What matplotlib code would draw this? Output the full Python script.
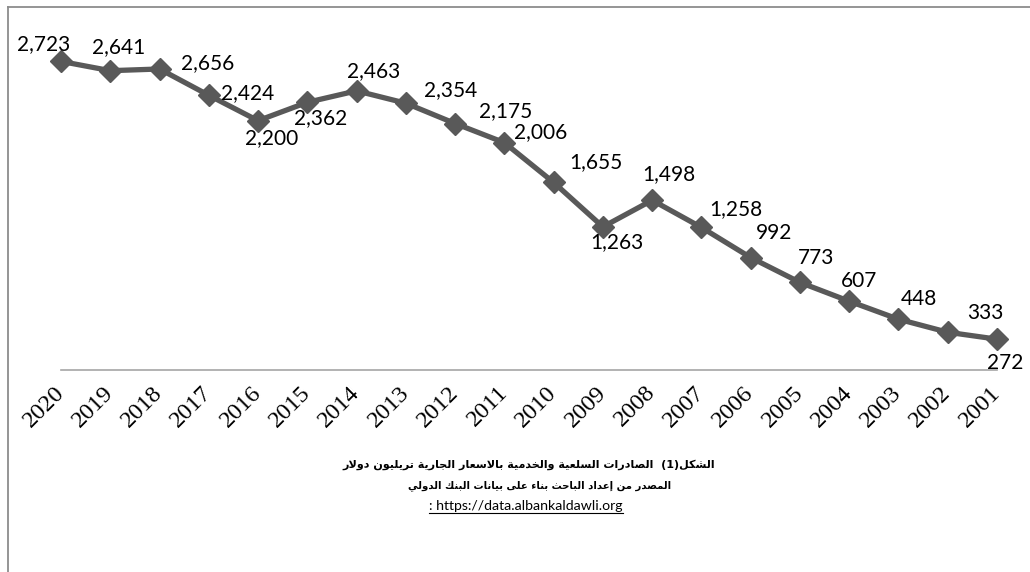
import matplotlib
matplotlib.use("Agg")
import matplotlib.pyplot as plt
from matplotlib.lines import Line2D

# ---------------- data ----------------
years = ["2020", "2019", "2018", "2017", "2016", "2015", "2014", "2013", "2012", "2011",
         "2010", "2009", "2008", "2007", "2006", "2005", "2004", "2003", "2002", "2001"]
values = [2723, 2641, 2656, 2424, 2200, 2362, 2463, 2354, 2175, 2006,
          1655, 1263, 1498, 1258, 992, 773, 607, 448, 333, 272]
caption_line1 = "الشكل(1)  الصادرات السلعية والخدمية بالاسعار الجارية تريليون دولار"
caption_line2 = "المصدر من إعداد الباحث بناء على بيانات البنك الدولي"
caption_line3 = ": https://data.albankaldawli.org"

# label offsets in pixels (dx, dy with dy positive = up)
label_offsets = [(-17, 17), (8, 24), (48, 6), (39, 2), (14, -17), (13, -16), (17, 20),
                 (45, 13), (51, 12), (36, 11), (42, 20), (14, -15), (17, 26), (34, 18),
                 (23, 25), (16, 24), (10, 20), (20, 20), (38, 19), (8, -24)]

# ---------------- simple Arabic shaping ----------------
TWO = {0x0622: 0xFE81, 0x0623: 0xFE83, 0x0624: 0xFE85, 0x0625: 0xFE87, 0x0627: 0xFE8D,
       0x0629: 0xFE93, 0x062F: 0xFEA9, 0x0630: 0xFEAB, 0x0631: 0xFEAD, 0x0632: 0xFEAF,
       0x0648: 0xFEED, 0x0649: 0xFEEF}
FOUR = {0x0626: 0xFE89, 0x0628: 0xFE8F, 0x062A: 0xFE95, 0x062B: 0xFE99, 0x062C: 0xFE9D,
        0x062D: 0xFEA1, 0x062E: 0xFEA5, 0x0633: 0xFEB1, 0x0634: 0xFEB5, 0x0635: 0xFEB9,
        0x0636: 0xFEBD, 0x0637: 0xFEC1, 0x0638: 0xFEC5, 0x0639: 0xFEC9, 0x063A: 0xFECD,
        0x0641: 0xFED1, 0x0642: 0xFED5, 0x0643: 0xFED9, 0x0644: 0xFEDD, 0x0645: 0xFEE1,
        0x0646: 0xFEE5, 0x0647: 0xFEE9, 0x064A: 0xFEF1}
ONE = {0x0621: 0xFE80}
LAM_ALEF = {0x0627: 0xFEFB, 0x0623: 0xFEF7, 0x0625: 0xFEF9, 0x0622: 0xFEF5}


def shape_arabic(s):
    toks = []
    i = 0
    while i < len(s):
        c = ord(s[i])
        if c == 0x0644 and i + 1 < len(s) and ord(s[i + 1]) in LAM_ALEF:
            toks.append(("LA", ord(s[i + 1])))
            i += 2
        else:
            toks.append(("C", c))
            i += 1

    def jt(t):
        if t[0] == "LA":
            return "R"
        if t[1] in FOUR:
            return "D"
        if t[1] in TWO:
            return "R"
        return "U"

    out = []
    for k, t in enumerate(toks):
        j = jt(t)
        prev = jt(toks[k - 1]) if k > 0 else "U"
        nxt = jt(toks[k + 1]) if k + 1 < len(toks) else "U"
        jp = j in ("D", "R") and prev == "D"
        jn = j == "D" and nxt in ("D", "R")
        if t[0] == "LA":
            base = LAM_ALEF[t[1]]
            out.append(chr(base + (1 if jp else 0)))
            continue
        c = t[1]
        if c in FOUR:
            base = FOUR[c]
            if jp and jn:
                out.append(chr(base + 3))
            elif jp:
                out.append(chr(base + 1))
            elif jn:
                out.append(chr(base + 2))
            else:
                out.append(chr(base))
        elif c in TWO:
            out.append(chr(TWO[c] + (1 if jp else 0)))
        elif c in ONE:
            out.append(chr(ONE[c]))
        else:
            out.append(chr(c))
    vis = "".join(out)[::-1]
    mirror = {"(": ")", ")": "("}
    return "".join(mirror.get(ch, ch) for ch in vis)


# ---------------- figure ----------------
W, H = 1030, 572
fig = plt.figure(figsize=(W / 100, H / 100), dpi=100)

ax_left, ax_right, ax_top, ax_bottom = 61, 997, 30, 370
ax = fig.add_axes([ax_left / W, 1 - ax_bottom / H, (ax_right - ax_left) / W, (ax_bottom - ax_top) / H])
x = list(range(len(years)))
ax.plot(x, values, color="#595959", lw=3.8, marker="D", ms=11, mec="#595959", mfc="#595959",
        solid_joinstyle="miter", zorder=3, clip_on=False)
ax.set_xlim(0, len(years) - 1)
ax.set_ylim(0, 3000)
for s in ["top", "left", "right"]:
    ax.spines[s].set_visible(False)
ax.spines["bottom"].set_color("#a6a6a6")
ax.spines["bottom"].set_linewidth(1.2)
ax.set_yticks([])
ax.set_xticks(x)
ax.set_xticklabels(years, rotation=45, ha="right", va="center", rotation_mode="anchor")
for lab in ax.get_xticklabels():
    lab.set_fontfamily(["Liberation Serif", "DejaVu Serif"])
    lab.set_fontsize(17.5)
ax.tick_params(axis="x", length=0, pad=14)
ax.patch.set_alpha(0)

for xi, v, (dx, dy) in zip(x, values, label_offsets):
    ax.annotate(f"{v:,}", (xi, v), xytext=(dx * 0.72, dy * 0.72), textcoords="offset points",
                ha="center", va="center", fontsize=15, fontfamily="Lato", color="#000000",
                annotation_clip=False, zorder=4)

# outer frame (top and left only)
fig.add_artist(Line2D([8 / W, 8 / W], [0, 1 - 7 / H], transform=fig.transFigure,
                      color="#8c8c8c", lw=1.3))
fig.add_artist(Line2D([8 / W, 1], [1 - 7 / H, 1 - 7 / H], transform=fig.transFigure,
                      color="#8c8c8c", lw=1.3))

# captions
fig.text(529 / W, 1 - 465 / H, shape_arabic(caption_line1), ha="center", va="center",
         fontsize=8.0, fontweight="bold", fontfamily="DejaVu Sans")
fig.text(540 / W, 1 - 486 / H, shape_arabic(caption_line2), ha="center", va="center",
         fontsize=7.3, fontweight="bold", fontfamily="DejaVu Sans")
t3 = fig.text(526 / W, 1 - 506 / H, caption_line3, ha="center", va="center",
              fontsize=10.2, fontfamily="Lato")
fig.canvas.draw()
bb = t3.get_window_extent()
fig.add_artist(Line2D([bb.x0 / W, bb.x1 / W], [(bb.y0 - 1) / H, (bb.y0 - 1) / H],
                      transform=fig.transFigure, color="black", lw=0.8))

fig.savefig("out.png", dpi=100)
